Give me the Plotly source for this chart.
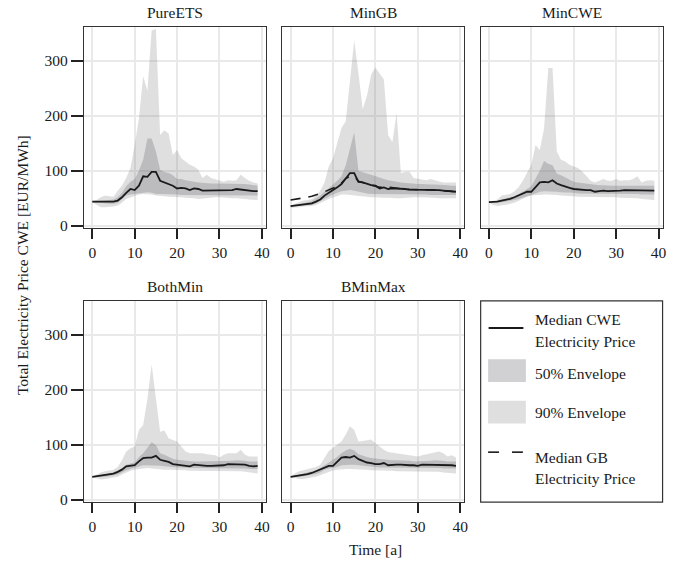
import plotly.graph_objects as go

years = list(range(40))
panel_names = ["PureETS", "MinGB", "MinCWE", "BothMin", "BMinMax"]
x_ticks = [0, 10, 20, 30, 40]
y_ticks = [0, 100, 200, 300]

# ---- PureETS ----
pure_med = [44, 44, 44, 44, 44, 44, 46, 52, 60, 67, 65, 73, 90, 89, 98, 98, 82, 79, 76, 73,
            68, 69, 68, 65, 68, 67, 64, 64, 64, 65, 65, 65, 65, 65, 67, 66, 64, 64, 63, 63]
pure_p95 = [44, 47, 52, 55, 54, 53, 64, 73, 87, 105, 147, 195, 272, 245, 355, 358, 165, 174, 168, 129,
            138, 123, 117, 111, 108, 102, 87, 93, 87, 85, 82, 80, 83, 82, 83, 93, 87, 82, 79, 77]
pure_p05 = [43, 38, 34, 34, 34, 35, 37, 42, 49, 52, 55, 57, 58, 58, 57, 55, 55, 54, 53, 53,
            52, 52, 51, 51, 50, 49, 50, 51, 51, 52, 52, 51, 51, 50, 50, 50, 49, 48, 48, 47]
pure_p75 = [44, 45, 46, 47, 47, 48, 52, 60, 72, 80, 85, 100, 120, 159, 159, 135, 102, 98, 96, 92,
            85, 85, 83, 81, 80, 79, 78, 78, 77, 77, 77, 77, 77, 77, 77, 77, 76, 75, 74, 73]
pure_p25 = [43, 42, 41, 40, 40, 40, 42, 48, 55, 57, 58, 59, 60, 61, 60, 58, 58, 58, 57, 57,
            57, 56, 56, 55, 55, 55, 55, 55, 55, 55, 55, 55, 55, 55, 55, 55, 55, 55, 55, 55]

# ---- MinGB ----
mingb_med = [36, 37, 38, 39, 40, 41, 44, 48, 55, 60, 64, 70, 76, 85, 96, 96, 80, 79, 76, 74,
             73, 68, 70, 67, 68, 68, 67, 67, 66, 66, 65, 65, 66, 66, 65, 65, 64, 63, 63, 62]
mingb_gb = [47, 48, 49, 50, 52, 54, 56, 59, 62, 65, 68, 72, 78, 86, 90, 90, 81, 79, 77, 75,
            73, 70, 71, 70, 70, 69, 67, 67, 66, 66, 66, 66, 66, 66, 65, 65, 64, 63, 63, 62]
mingb_p95 = [37, 40, 44, 46, 47, 49, 55, 64, 79, 108, 123, 150, 178, 190, 262, 337, 278, 212, 236, 275,
             288, 278, 266, 165, 152, 205, 96, 98, 99, 87, 86, 85, 83, 85, 83, 80, 79, 79, 79, 79]
mingb_p05 = [33, 33, 34, 35, 35, 36, 38, 41, 45, 49, 52, 55, 57, 57, 56, 55, 54, 53, 53, 52,
             52, 51, 51, 51, 50, 50, 50, 51, 51, 52, 52, 52, 51, 51, 51, 50, 50, 50, 50, 50]
mingb_p75 = [37, 38, 40, 41, 43, 45, 50, 55, 62, 68, 75, 82, 90, 110, 140, 170, 100, 97, 95, 93,
             90, 88, 85, 83, 81, 80, 79, 78, 77, 76, 76, 76, 75, 75, 75, 75, 74, 74, 73, 73]
mingb_p25 = [35, 35, 36, 37, 37, 38, 41, 45, 50, 54, 57, 60, 63, 64, 65, 64, 62, 60, 59, 58,
             58, 57, 57, 57, 57, 57, 57, 57, 57, 57, 57, 57, 57, 56, 56, 56, 56, 56, 56, 56]

# ---- MinCWE ----
mincwe_med = [43, 43, 44, 46, 47, 49, 52, 55, 58, 62, 62, 70, 79, 80, 79, 83, 77, 74, 71, 69,
              67, 66, 65, 65, 65, 62, 63, 64, 63, 63, 63, 64, 65, 65, 65, 65, 64, 64, 64, 64]
mincwe_p95 = [43, 45, 48, 55, 57, 58, 63, 70, 82, 96, 111, 147, 138, 177, 287, 287, 135, 120, 117, 111,
              108, 105, 99, 90, 82, 79, 82, 85, 82, 82, 85, 82, 83, 83, 85, 90, 79, 82, 83, 82]
mincwe_p05 = [42, 38, 36, 37, 38, 40, 42, 46, 50, 53, 55, 56, 57, 57, 57, 57, 56, 55, 55, 54,
              54, 53, 53, 53, 52, 52, 52, 52, 52, 52, 52, 51, 51, 51, 50, 50, 49, 48, 48, 47]
mincwe_p75 = [43, 44, 46, 48, 50, 51, 54, 58, 62, 67, 72, 85, 100, 118, 113, 110, 95, 92, 88, 84,
              80, 79, 78, 76, 75, 75, 74, 74, 73, 73, 73, 73, 73, 74, 74, 74, 74, 73, 73, 73]
mincwe_p25 = [42, 42, 42, 43, 44, 45, 47, 49, 52, 54, 56, 59, 62, 63, 63, 63, 62, 61, 61, 60,
              60, 59, 59, 58, 58, 58, 58, 58, 58, 58, 58, 58, 58, 58, 58, 58, 57, 57, 57, 57]

# ---- BothMin ----
both_med = [42, 43, 44, 45, 46, 48, 51, 55, 61, 62, 63, 70, 76, 77, 77, 80, 73, 71, 69, 65,
            64, 64, 63, 61, 64, 63, 63, 62, 62, 62, 62, 63, 65, 65, 65, 65, 64, 62, 61, 62]
both_p95 = [42, 46, 50, 52, 54, 55, 60, 72, 88, 94, 97, 127, 136, 183, 246, 190, 124, 126, 112, 109,
            106, 97, 88, 85, 85, 85, 85, 83, 82, 81, 77, 82, 85, 85, 85, 91, 82, 79, 79, 79]
both_p05 = [41, 39, 37, 38, 39, 40, 42, 46, 50, 53, 55, 56, 58, 58, 57, 56, 56, 55, 55, 55,
            55, 54, 54, 53, 53, 53, 53, 53, 52, 52, 52, 52, 52, 52, 52, 52, 51, 50, 49, 48]
both_p75 = [42, 44, 45, 47, 48, 50, 53, 58, 64, 66, 68, 78, 85, 95, 105, 100, 85, 82, 78, 75,
            73, 72, 71, 71, 70, 70, 70, 70, 70, 70, 70, 70, 71, 71, 72, 72, 71, 70, 70, 70]
both_p25 = [41, 41, 42, 42, 43, 44, 46, 50, 54, 56, 58, 60, 63, 63, 63, 63, 62, 61, 60, 59,
            59, 59, 58, 58, 58, 58, 58, 57, 57, 57, 57, 57, 57, 57, 57, 57, 57, 56, 56, 56]

# ---- BMinMax ----
bmm_med = [42, 43, 44, 45, 47, 49, 52, 55, 59, 62, 62, 69, 77, 78, 77, 80, 74, 71, 68, 67,
           65, 65, 67, 63, 64, 64, 64, 63, 63, 63, 62, 64, 64, 64, 64, 64, 64, 63, 63, 62]
bmm_p95 = [42, 48, 52, 54, 56, 57, 60, 64, 76, 89, 95, 100, 106, 119, 134, 127, 106, 107, 109, 110,
           103, 97, 91, 87, 86, 85, 83, 82, 81, 80, 79, 81, 83, 85, 87, 88, 85, 79, 81, 77]
bmm_p05 = [41, 39, 38, 38, 39, 40, 42, 45, 48, 51, 54, 55, 56, 56, 56, 56, 56, 55, 55, 54,
           54, 54, 53, 53, 53, 52, 52, 52, 52, 52, 52, 52, 52, 51, 51, 51, 50, 49, 49, 48]
bmm_p75 = [42, 44, 46, 47, 49, 51, 54, 58, 63, 68, 72, 78, 85, 90, 93, 90, 83, 80, 78, 76,
           75, 74, 73, 73, 72, 72, 72, 71, 71, 70, 70, 70, 71, 71, 72, 72, 71, 70, 70, 70]
bmm_p25 = [41, 41, 42, 43, 44, 45, 47, 50, 55, 57, 58, 60, 63, 64, 64, 64, 63, 62, 61, 60,
           60, 59, 59, 59, 58, 58, 58, 58, 58, 58, 58, 58, 58, 58, 58, 58, 57, 57, 57, 57]

panels = [
    (pure_med, pure_p05, pure_p95, pure_p25, pure_p75, None),
    (mingb_med, mingb_p05, mingb_p95, mingb_p25, mingb_p75, mingb_gb),
    (mincwe_med, mincwe_p05, mincwe_p95, mincwe_p25, mincwe_p75, None),
    (both_med, both_p05, both_p95, both_p25, both_p75, None),
    (bmm_med, bmm_p05, bmm_p95, bmm_p25, bmm_p75, None),
]

W, H = 680, 566
FONT = "Liberation Serif"
FS = 15.5
FILL90 = "rgba(128,128,132,0.25)"
FILL50 = "rgba(128,128,132,0.36)"
DARK = "#333333"

col_left = [84.5, 284.0, 483.5]
col_w = 183.0
row_top = [27.0, 304.0]
row_h = 203.5

def px_x(p):
    return p / W

def px_y(p):
    return (H - p) / H

fig = go.Figure()
layout = dict(
    width=W, height=H, margin=dict(l=0, r=0, t=0, b=0),
    paper_bgcolor="white", plot_bgcolor="white", showlegend=False,
    font=dict(family=FONT, size=FS, color="#1a1a1a"),
)
annotations = []
shapes = []

for i, (name, data) in enumerate(zip(panel_names, panels)):
    med, p05, p95, p25, p75, gb = data
    r, c = divmod(i, 3)
    k = "" if i == 0 else str(i + 1)
    xa, ya = "x" + k, "y" + k
    fig.add_trace(go.Scatter(x=years, y=p05, xaxis=xa, yaxis=ya, mode="lines",
                             line=dict(width=0), hoverinfo="skip"))
    fig.add_trace(go.Scatter(x=years, y=p95, xaxis=xa, yaxis=ya, mode="lines",
                             line=dict(width=0), fill="tonexty", fillcolor=FILL90))
    fig.add_trace(go.Scatter(x=years, y=p25, xaxis=xa, yaxis=ya, mode="lines",
                             line=dict(width=0), hoverinfo="skip"))
    fig.add_trace(go.Scatter(x=years, y=p75, xaxis=xa, yaxis=ya, mode="lines",
                             line=dict(width=0), fill="tonexty", fillcolor=FILL50))
    if gb is not None:
        fig.add_trace(go.Scatter(x=years, y=gb, xaxis=xa, yaxis=ya, mode="lines",
                                 line=dict(color="#1a1a1a", width=1.6, dash="10px,8px")))
    fig.add_trace(go.Scatter(x=years, y=med, xaxis=xa, yaxis=ya, mode="lines",
                             line=dict(color="#1a1a1a", width=1.8)))

    x0 = col_left[c]
    y0 = row_top[r]
    layout["xaxis" + k] = dict(
        domain=[px_x(x0), px_x(x0 + col_w)], anchor=ya, range=[-1.95, 40.95],
        tickvals=x_ticks, ticktext=[str(v) for v in x_ticks],
        showgrid=True, gridcolor="#e9e9e9", gridwidth=1.8, zeroline=False,
        showline=True, linecolor=DARK, linewidth=1.2, mirror=True,
        ticks="outside", ticklen=10, tickwidth=2, tickcolor="#222222",
        tickfont=dict(family=FONT, size=FS, color="#1a1a1a"),
    )
    layout["yaxis" + k] = dict(
        domain=[px_y(y0 + row_h), px_y(y0)], anchor=xa, range=[-4, 362],
        tickvals=y_ticks, ticktext=[str(v) for v in y_ticks],
        showgrid=True, gridcolor="#e9e9e9", gridwidth=1.8, zeroline=False,
        showline=True, linecolor=DARK, linewidth=1.2, mirror=True,
        ticks="outside" if c == 0 else "", ticklen=12, tickwidth=2, tickcolor="#222222",
        showticklabels=(c == 0),
        tickfont=dict(family=FONT, size=FS, color="#1a1a1a"),
    )
    annotations.append(dict(
        text=name, x=px_x(x0 + col_w / 2), y=px_y(y0 - 14), xref="paper", yref="paper",
        xanchor="center", yanchor="middle", showarrow=False,
        font=dict(family=FONT, size=FS, color="#1a1a1a")))

# axis titles
annotations.append(dict(text="Time [a]", x=px_x(378), y=px_y(555), xref="paper", yref="paper",
                        xanchor="center", yanchor="middle", showarrow=False,
                        font=dict(family=FONT, size=FS, color="#1a1a1a")))
annotations.append(dict(text="Total Electricity Price CWE [EUR/MWh]", x=px_x(22), y=px_y(268),
                        xref="paper", yref="paper", xanchor="center", yanchor="middle",
                        textangle=-90, showarrow=False,
                        font=dict(family=FONT, size=FS, color="#1a1a1a")))

# manual legend in the empty sixth cell
lx0, ly0 = col_left[2], row_top[1]
shapes.append(dict(type="rect", xref="paper", yref="paper",
                   x0=px_x(lx0), x1=px_x(lx0 + col_w), y0=px_y(ly0 + row_h), y1=px_y(ly0),
                   line=dict(color=DARK, width=1.2), fillcolor="rgba(0,0,0,0)"))
shapes.append(dict(type="line", xref="paper", yref="paper",
                   x0=px_x(491.5), x1=px_x(526.5), y0=px_y(331.5), y1=px_y(331.5),
                   line=dict(color="#1a1a1a", width=1.8)))
shapes.append(dict(type="rect", xref="paper", yref="paper",
                   x0=px_x(491), x1=px_x(529), y0=px_y(386), y1=px_y(363),
                   line=dict(width=0), fillcolor=FILL50))
shapes.append(dict(type="rect", xref="paper", yref="paper",
                   x0=px_x(491), x1=px_x(529), y0=px_y(428), y1=px_y(405),
                   line=dict(width=0), fillcolor=FILL90))
shapes.append(dict(type="line", xref="paper", yref="paper",
                   x0=px_x(491), x1=px_x(502), y0=px_y(457), y1=px_y(457),
                   line=dict(color="#1a1a1a", width=1.6)))
shapes.append(dict(type="line", xref="paper", yref="paper",
                   x0=px_x(515), x1=px_x(526), y0=px_y(457), y1=px_y(457),
                   line=dict(color="#1a1a1a", width=1.6)))

legend_texts = [("Median CWE", 323), ("Electricity Price", 345), ("50% Envelope", 377),
                ("90% Envelope", 417), ("Median GB", 462), ("Electricity Price", 484)]
for t, yy in legend_texts:
    annotations.append(dict(text=t, x=px_x(536), y=px_y(yy), xref="paper", yref="paper",
                            xanchor="left", yanchor="middle", showarrow=False,
                            font=dict(family=FONT, size=FS, color="#1a1a1a")))

layout["annotations"] = annotations
layout["shapes"] = shapes
fig.update_layout(**layout)
fig.write_html("out.html", config={"displayModeBar": False},
               post_script="document.body.style.margin='0';document.body.style.overflow='hidden';")
